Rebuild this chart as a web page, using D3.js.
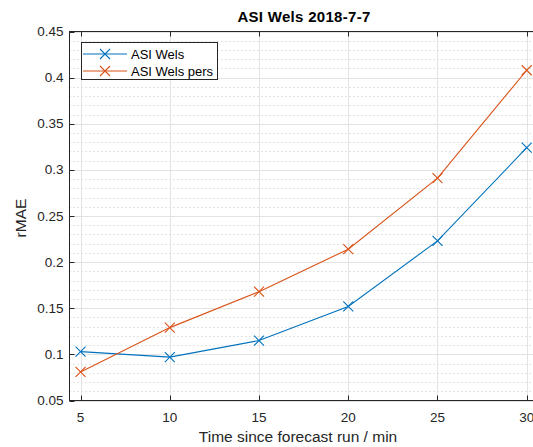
<!DOCTYPE html>
<html>
<head>
<meta charset="utf-8">
<script src="https://cdn.jsdelivr.net/npm/d3@7"></script>
<style>
  html, body { margin: 0; padding: 0; background: #fff; overflow: hidden; }
  svg { display: block; font-family: "Liberation Sans", Arial, Helvetica, sans-serif; }
</style>
</head>
<body>
<svg id="chart" width="533" height="447"></svg>
<script>
// Forecast horizon (minutes) and rMAE for each forecast variant
const minutes = [5, 10, 15, 20, 25, 30];
const asiWels = [0.103, 0.097, 0.115, 0.152, 0.223, 0.324];
const asiWelsPers = [0.081, 0.129, 0.168, 0.214, 0.291, 0.408];
const seriesNames = ["ASI Wels", "ASI Wels pers"];
const seriesColors = ["#0072BD", "#D95319"];
const xTicks = [5, 10, 15, 20, 25, 30];
const yTicks = [0.05, 0.1, 0.15, 0.2, 0.25, 0.3, 0.35, 0.4, 0.45];
const yTickLabels = ["0.05", "0.1", "0.15", "0.2", "0.25", "0.3", "0.35", "0.4", "0.45"];
const yMinorStep = 0.01;
const titleText = "ASI Wels 2018-7-7";
const xLabelText = "Time since forecast run / min";
const yLabelText = "rMAE";

const svg = d3.select("#chart");
const plot = { left: 69.5, right: 541, top: 31.5, bottom: 400.5 };

const x = d3.scaleLinear().domain([4.38, 30.8]).range([plot.left, plot.right]);
const y = d3.scaleLinear().domain([0.05, 0.45]).range([plot.bottom, plot.top]);

const axisColor = "#262626";

// minor horizontal grid (dotted)
const minorVals = d3.range(0.05, 0.45 + 1e-9, yMinorStep)
  .filter(v => Math.abs(v / 0.05 - Math.round(v / 0.05)) > 1e-6);
svg.append("g").selectAll("line").data(minorVals).join("line")
  .attr("x1", plot.left).attr("x2", plot.right)
  .attr("y1", d => Math.round(y(d)) + 0.5).attr("y2", d => Math.round(y(d)) + 0.5)
  .attr("stroke", "#c8c8c8").attr("stroke-width", 1)
  .attr("stroke-dasharray", "1,3");

// major grid
const gGrid = svg.append("g").attr("stroke", "#e3e3e3").attr("stroke-width", 1);
gGrid.selectAll("line.h").data(yTicks).join("line").attr("class", "h")
  .attr("x1", plot.left).attr("x2", plot.right)
  .attr("y1", d => Math.round(y(d)) + 0.5).attr("y2", d => Math.round(y(d)) + 0.5);
gGrid.selectAll("line.v").data(xTicks).join("line").attr("class", "v")
  .attr("x1", d => Math.round(x(d)) + 0.5).attr("x2", d => Math.round(x(d)) + 0.5)
  .attr("y1", plot.top).attr("y2", plot.bottom);

// series lines and markers
const series = [asiWels, asiWelsPers];
const line = d3.line().x((d, i) => x(minutes[i])).y(d => y(d));
const ms = 5;
series.forEach((vals, si) => {
  const g = svg.append("g");
  g.append("path").datum(vals).attr("d", line)
    .attr("fill", "none").attr("stroke", seriesColors[si]).attr("stroke-width", 1.1);
  g.selectAll("path.m").data(vals).join("path").attr("class", "m")
    .attr("d", (d, i) => {
      const cx = x(minutes[i]), cy = y(d);
      return `M${cx - ms},${cy - ms}L${cx + ms},${cy + ms}M${cx - ms},${cy + ms}L${cx + ms},${cy - ms}`;
    })
    .attr("fill", "none").attr("stroke", seriesColors[si]).attr("stroke-width", 1.1);
});

// axes box
svg.append("rect")
  .attr("x", plot.left).attr("y", plot.top)
  .attr("width", plot.right - plot.left).attr("height", plot.bottom - plot.top)
  .attr("fill", "none").attr("stroke", axisColor).attr("stroke-width", 1);

// tick marks (inward) and labels
const tickLen = 5;
const gTicks = svg.append("g").attr("stroke", axisColor).attr("stroke-width", 1);
xTicks.forEach(t => {
  const px = Math.round(x(t)) + 0.5;
  gTicks.append("line").attr("x1", px).attr("x2", px).attr("y1", plot.bottom).attr("y2", plot.bottom - tickLen);
  gTicks.append("line").attr("x1", px).attr("x2", px).attr("y1", plot.top).attr("y2", plot.top + tickLen);
});
yTicks.forEach(t => {
  const py = Math.round(y(t)) + 0.5;
  gTicks.append("line").attr("x1", plot.left).attr("x2", plot.left + tickLen).attr("y1", py).attr("y2", py);
  gTicks.append("line").attr("x1", plot.right).attr("x2", plot.right - tickLen).attr("y1", py).attr("y2", py);
});

svg.append("g").selectAll("text").data(xTicks).join("text")
  .attr("x", d => x(d)).attr("y", plot.bottom + 21.5)
  .attr("text-anchor", "middle").attr("font-size", 13.5).attr("fill", axisColor)
  .text(d => d);

svg.append("g").selectAll("text").data(yTicks).join("text")
  .attr("x", plot.left - 6).attr("y", d => y(d) + 4.5)
  .attr("text-anchor", "end").attr("font-size", 13.5).attr("fill", axisColor)
  .text((d, i) => yTickLabels[i]);

// title and axis labels
svg.append("text").attr("x", 304).attr("y", 22)
  .attr("text-anchor", "middle").attr("font-size", 15).attr("font-weight", "bold")
  .attr("letter-spacing", 0.3)
  .attr("fill", "#000").text(titleText);

svg.append("text").attr("x", 298).attr("y", 442)
  .attr("text-anchor", "middle").attr("font-size", 15.5).attr("fill", axisColor)
  .text(xLabelText);

svg.append("text").attr("transform", "translate(26,218) rotate(-90)")
  .attr("text-anchor", "middle").attr("font-size", 15.5).attr("fill", axisColor)
  .text(yLabelText);

// legend
const lg = svg.append("g");
lg.append("rect").attr("x", 81.5).attr("y", 42.5).attr("width", 136).attr("height", 37)
  .attr("fill", "#fff").attr("stroke", axisColor).attr("stroke-width", 1);
seriesNames.forEach((name, i) => {
  const ly = 54 + i * 17;
  lg.append("line").attr("x1", 83).attr("x2", 127).attr("y1", ly).attr("y2", ly)
    .attr("stroke", seriesColors[i]).attr("stroke-width", 1.1);
  const cx = 105;
  lg.append("path")
    .attr("d", `M${cx - ms},${ly - ms}L${cx + ms},${ly + ms}M${cx - ms},${ly + ms}L${cx + ms},${ly - ms}`)
    .attr("stroke", seriesColors[i]).attr("stroke-width", 1.1).attr("fill", "none");
  lg.append("text").attr("x", 131).attr("y", ly + 4.5).attr("font-size", 13).attr("fill", "#000")
    .text(name);
});
</script>
</body>
</html>
